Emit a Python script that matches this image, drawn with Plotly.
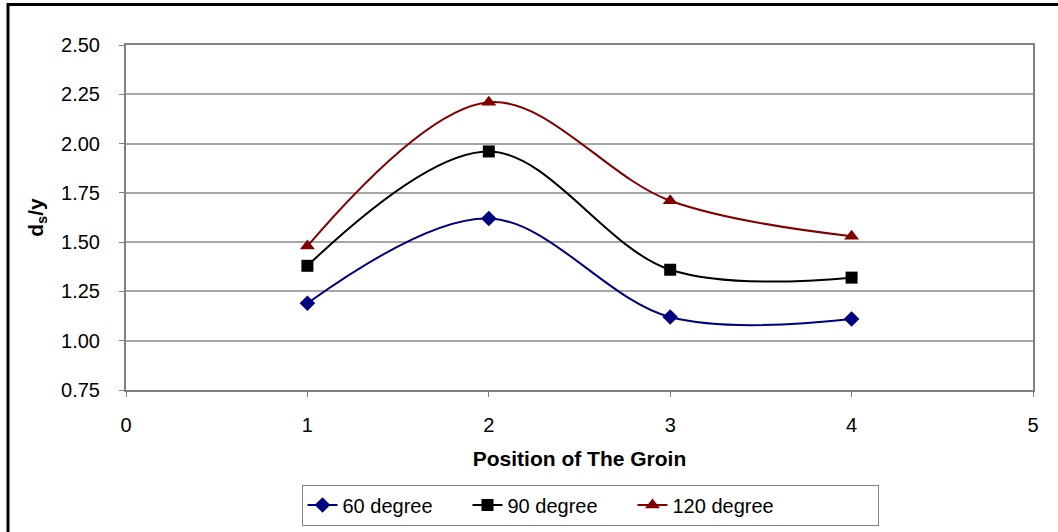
import plotly.graph_objects as go

positions = [1, 2, 3, 4]
deg60 = [1.19, 1.62, 1.12, 1.11]
deg90 = [1.38, 1.96, 1.36, 1.32]
deg120 = [1.48, 2.21, 1.71, 1.53]
series_names = ["60 degree", "90 degree", "120 degree"]
y_ticks = [0.75, 1.00, 1.25, 1.50, 1.75, 2.00, 2.25, 2.50]
x_ticks = [0, 1, 2, 3, 4, 5]

W, H = 1058, 532
L, R, T, B = 126, 25, 45, 142
pw, ph = W - L - R, H - T - B

def px_x(p):
    return (p - L) / pw

def px_y(p):
    return (H - B - p) / ph

styles = [
    dict(color="#000080", symbol="diamond", size=12, lw=120),
    dict(color="#000000", symbol="square", size=12, lw=120),
    dict(color="#800000", symbol="triangle-up", size=13, lw=200),
]

fig = go.Figure()
for name, vals, st in zip(series_names, [deg60, deg90, deg120], styles):
    fig.add_trace(go.Scatter(
        x=positions, y=vals, name=name, mode="lines+markers",
        line=dict(color=st["color"], width=2, shape="spline", smoothing=1),
        marker=dict(color=st["color"], symbol=st["symbol"], size=st["size"]),
        legendwidth=st["lw"],
    ))

font = "Liberation Sans, Arial, sans-serif"
fig.update_layout(
    width=W, height=H,
    margin=dict(l=L, r=R, t=T, b=B, autoexpand=False),
    paper_bgcolor="white", plot_bgcolor="white",
    font=dict(family=font, size=20, color="black"),
    showlegend=True,
    legend=dict(
        orientation="h", x=px_x(590), xanchor="center",
        y=px_y(505), yanchor="middle",
        bordercolor="#808080", borderwidth=1,
        font=dict(size=20),
        traceorder="normal",
    ),
    xaxis=dict(
        range=[0, 5], tickvals=x_ticks, ticktext=[str(v) for v in x_ticks],
        showgrid=False, zeroline=False,
        showline=True, linecolor="#808080", linewidth=2, mirror=True,
        ticks="outside", ticklen=5, tickcolor="#808080",
        ticklabelstandoff=11,
        title=dict(text="<b>Position of The Groin</b>", font=dict(size=21), standoff=16),
    ),
    yaxis=dict(
        range=[0.75, 2.50], tickvals=y_ticks,
        ticktext=[f"{v:.2f}" for v in y_ticks],
        showgrid=True, gridcolor="#a6a6a6", gridwidth=1.5, zeroline=False,
        showline=True, linecolor="#808080", linewidth=2, mirror=True,
        ticks="outside", ticklen=5, tickcolor="#808080",
        ticklabelstandoff=15,
        title=dict(text="<b>d<sub>s</sub>/y</b>", font=dict(size=21), standoff=12),
    ),
    shapes=[dict(
        type="rect", xref="paper", yref="paper",
        x0=px_x(8), x1=px_x(W + 60), y0=px_y(H + 60), y1=px_y(4.5),
        line=dict(color="black", width=3), fillcolor="rgba(0,0,0,0)", layer="above",
    )],
)

fig.write_html("out.html")
